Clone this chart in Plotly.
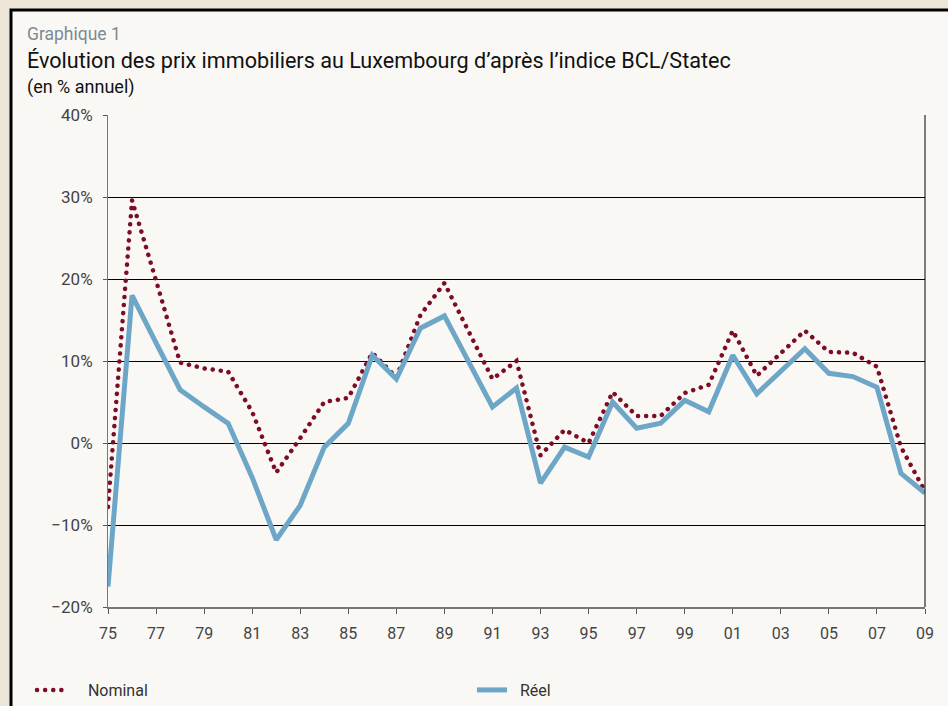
import plotly.graph_objects as go

# Annual change in Luxembourg house prices (BCL/Statec index), in %
years = list(range(1975, 2010))
nominal = [-7.8, 29.6, 19.8, 9.8, 9.1, 8.7, 3.8, -3.6, 0.6, 5.0,
           5.5, 11.0, 8.0, 15.6, 19.5, 13.6, 7.8, 10.0, -1.5, 1.6,
           0.0, 6.2, 3.3, 3.3, 6.1, 7.1, 13.7, 8.2, 11.0, 13.7,
           11.1, 11.0, 9.3, -0.5, -5.9]
reel = [-17.5, 18.0, 12.2, 6.5, 4.4, 2.4, -4.2, -11.8, -7.6, -0.5,
        2.4, 10.7, 7.8, 14.0, 15.5, 10.0, 4.4, 6.7, -4.9, -0.5,
        -1.7, 5.0, 1.8, 2.4, 5.2, 3.8, 10.7, 6.0, 8.7, 11.5,
        8.5, 8.1, 6.8, -3.7, -6.1]
tick_years = list(range(1975, 2010, 2))
tick_labels = [str(y)[2:] for y in tick_years]

W, H = 948, 706
L, R, T, B = 108, 925, 115, 607  # plot area in pixels


def px(x):
    return (x - L) / (R - L)


def py(y):
    return (B - y) / (B - T)


FONT = "Roboto"
NBSP = "\u00a0"
fig = go.Figure()

fig.add_trace(go.Scatter(
    x=years, y=nominal, name=NBSP * 4 + "Nominal", mode="lines",
    line=dict(color="#7d0c26", width=4, dash="4px,4px"),
    legend="legend",
))
fig.add_trace(go.Scatter(
    x=years, y=reel, name=NBSP * 2 + "Réel", mode="lines",
    line=dict(color="#6ea6c8", width=5),
    legend="legend2",
))

# framed panel with beige outer margin
fig.add_shape(type="rect", xref="paper", yref="paper",
              x0=px(11), x1=px(1100), y0=py(10), y1=py(900),
              fillcolor="#f9f8f4", line=dict(color="#000000", width=3),
              layer="below")
# right border of the plot area
fig.add_shape(type="line", xref="paper", yref="paper",
              x0=1, x1=1, y0=0, y1=1,
              line=dict(color="#000000", width=1))

annos = [
    ("Graphique 1", 34, 17.5, "#7d8a94"),
    ("Évolution des prix immobiliers au Luxembourg d’après l’indice BCL/Statec", 61, 21.6, "#111111"),
    ("(en % annuel)", 87, 18, "#111111"),
]
for text, ypix, size, color in annos:
    fig.add_annotation(text=text, xref="paper", yref="paper",
                       x=px(25), y=py(ypix), xanchor="left", yanchor="middle",
                       showarrow=False, font=dict(family=FONT, size=size, color=color))

legend_style = dict(
    orientation="h", xref="container", yref="container",
    y=1 - 690 / H, xanchor="left", yanchor="middle",
    font=dict(family=FONT, size=16, color="#333333"),
    bgcolor="rgba(0,0,0,0)",
)

fig.update_layout(
    width=W, height=H,
    margin=dict(l=L, r=W - R, t=T, b=H - B),
    paper_bgcolor="#ece5d8",
    plot_bgcolor="rgba(0,0,0,0)",
    font=dict(family=FONT, size=16, color="#444444"),
    showlegend=True,
    legend=dict(x=32 / W, **legend_style),
    legend2=dict(x=472 / W, **legend_style),
    xaxis=dict(
        range=[1975, 2009], tickvals=tick_years, ticktext=tick_labels,
        showgrid=False, zeroline=False,
        showline=True, linecolor="#777777", linewidth=2,
        ticks="outside", ticklen=5, tickcolor="#555555",
        ticklabelstandoff=6,
        tickfont=dict(size=16, color="#444444"),
    ),
    yaxis=dict(
        range=[-20, 40], dtick=10, ticksuffix="%",
        showgrid=True, gridcolor="#000000", gridwidth=1, zeroline=False,
        showline=True, linecolor="#777777", linewidth=1,
        ticks="outside", ticklen=4, tickcolor="#555555",
        ticklabelstandoff=7,
        tickfont=dict(size=17, color="#444444"),
    ),
)

# round dots for the nominal series (plotly draws square dashes)
js = """
document.body.style.margin='0';
document.querySelectorAll('path.js-line, .legendlines path').forEach(function(p){
  if ((p.style.strokeDasharray || '').indexOf('4px') === 0) {
    p.style.strokeLinecap = 'round';
    p.style.strokeWidth = '4.5px';
    p.style.strokeDasharray = '0.1px,8px';
  }
});
"""
fig.write_html("out.html", config={"displayModeBar": False}, post_script=js)
